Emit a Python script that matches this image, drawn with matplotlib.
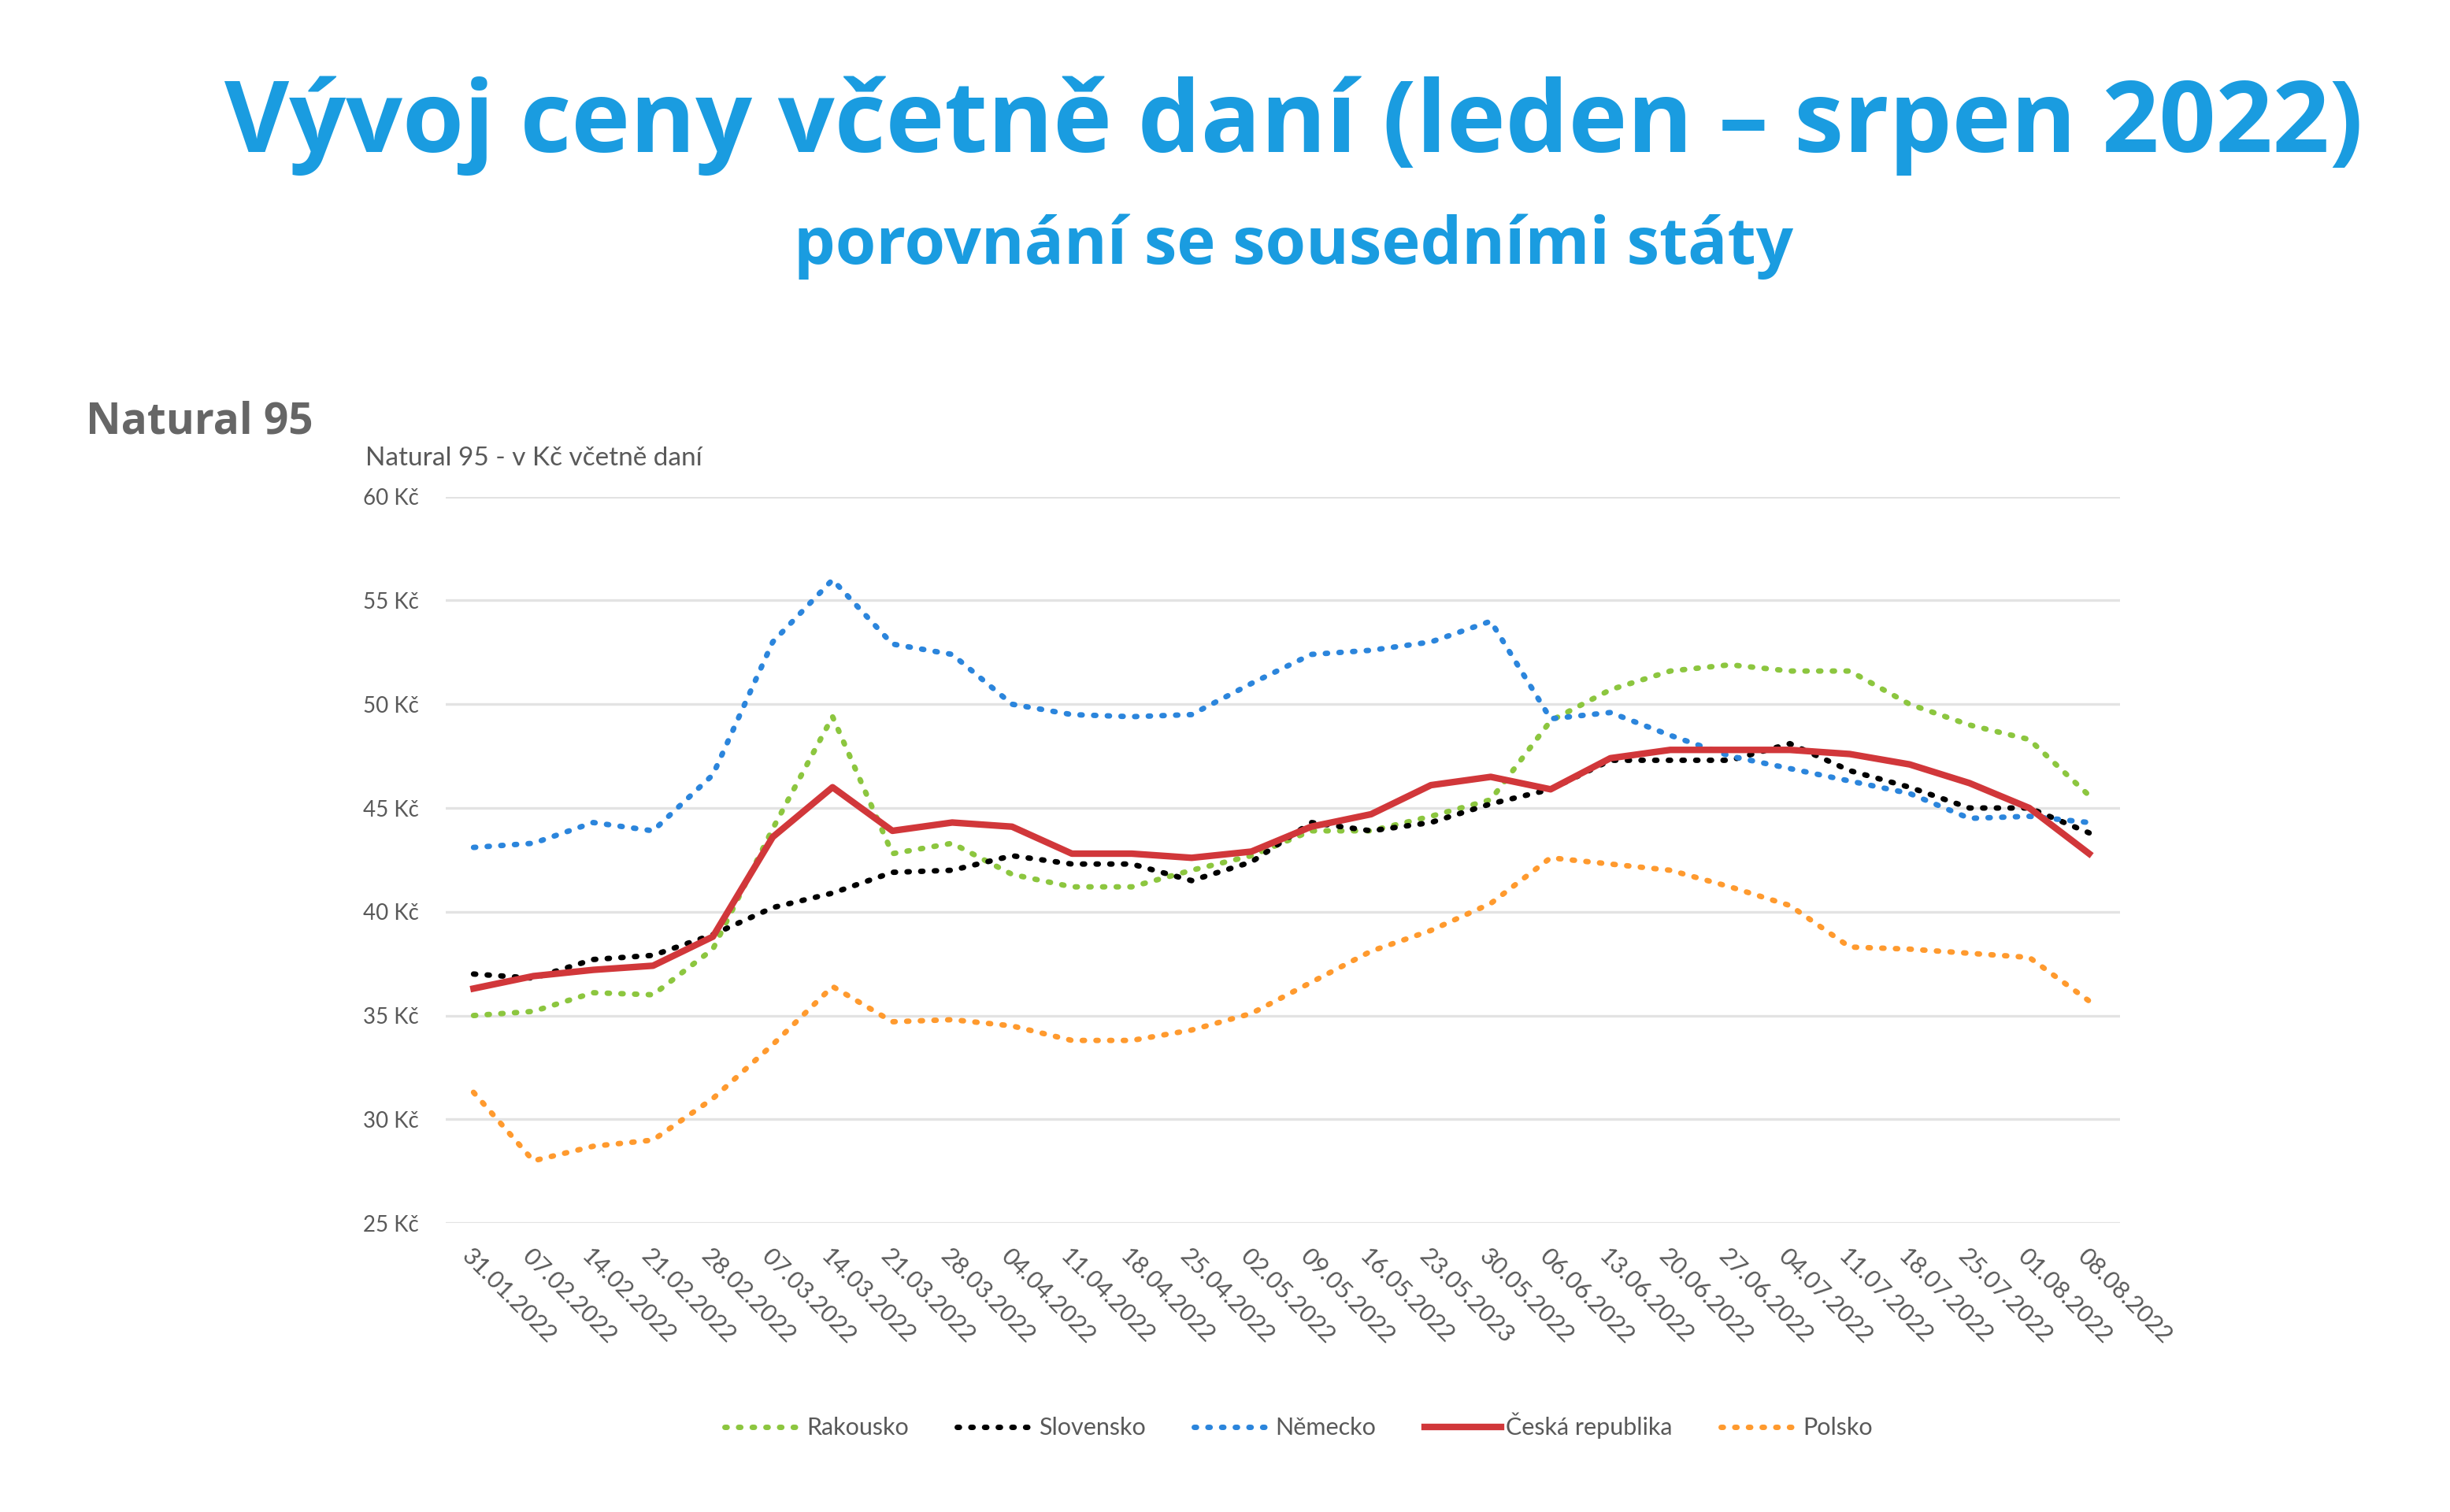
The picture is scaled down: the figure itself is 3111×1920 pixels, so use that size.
import matplotlib
matplotlib.use("Agg")
import matplotlib.pyplot as plt

plt.rcParams['font.family'] = ['Lato', 'DejaVu Sans']

dates = ['31.01.2022', '07.02.2022', '14.02.2022', '21.02.2022', '28.02.2022',
         '07.03.2022', '14.03.2022', '21.03.2022', '28.03.2022', '04.04.2022',
         '11.04.2022', '18.04.2022', '25.04.2022', '02.05.2022', '09.05.2022',
         '16.05.2022', '23.05.2023', '30.05.2022', '06.06.2022', '13.06.2022',
         '20.06.2022', '27.06.2022', '04.07.2022', '11.07.2022', '18.07.2022',
         '25.07.2022', '01.08.2022', '08.08.2022']

rakousko = [35.0, 35.2, 36.1, 36.0, 38.2, 44.0, 49.4, 42.8, 43.3, 41.8,
            41.2, 41.2, 42.0, 42.7, 43.9, 43.9, 44.6, 45.4, 49.2, 50.7,
            51.6, 51.9, 51.6, 51.6, 50.0, 49.0, 48.3, 45.6]
slovensko = [37.0, 36.8, 37.7, 37.9, 38.9, 40.2, 40.9, 41.9, 42.0, 42.7,
             42.3, 42.3, 41.5, 42.4, 44.3, 43.9, 44.3, 45.2, 45.9, 47.3,
             47.3, 47.3, 48.1, 46.8, 46.0, 45.0, 45.0, 43.8]
nemecko = [43.1, 43.3, 44.3, 43.9, 46.6, 53.0, 56.0, 52.9, 52.4, 50.0,
           49.5, 49.4, 49.5, 51.0, 52.4, 52.6, 53.0, 54.0, 49.3, 49.6,
           48.5, 47.5, 46.9, 46.3, 45.7, 44.5, 44.6, 44.3]
cesko = [36.3, 36.9, 37.2, 37.4, 38.8, 43.6, 46.0, 43.9, 44.3, 44.1,
         42.8, 42.8, 42.6, 42.9, 44.1, 44.7, 46.1, 46.5, 45.9, 47.4,
         47.8, 47.8, 47.8, 47.6, 47.1, 46.2, 45.0, 42.8]
polsko = [31.3, 28.0, 28.7, 29.0, 31.0, 33.6, 36.4, 34.7, 34.8, 34.5,
          33.8, 33.8, 34.3, 35.1, 36.6, 38.1, 39.1, 40.4, 42.6, 42.3,
          42.0, 41.2, 40.3, 38.3, 38.2, 38.0, 37.8, 35.7]

yticks = [25, 30, 35, 40, 45, 50, 55, 60]
ytick_labels = ['%d Kč' % v for v in yticks]

blue = '#1A9CE0'
grey = '#595959'

fig = plt.figure(figsize=(15.555, 9.6), dpi=200)
ax = fig.add_axes([0.1818, 0.1911, 0.6836, 0.4804])

x = list(range(len(dates)))
dot = (0, (0.4, 2.1))
ax.plot(x, rakousko, color='#8CC63F', lw=2.5, linestyle=dot, dash_capstyle='round', label='Rakousko')
ax.plot(x, slovensko, color='#000000', lw=2.5, linestyle=dot, dash_capstyle='round', label='Slovensko')
ax.plot(x, nemecko, color='#2B85DC', lw=2.5, linestyle=dot, dash_capstyle='round', label='Německo')
ax.plot(x, cesko, color='#D1373A', lw=3.0, solid_joinstyle='round', label='Česká republika')
ax.plot(x, polsko, color='#FF9A2E', lw=2.5, linestyle=dot, dash_capstyle='round', label='Polsko')

ax.set_xlim(-0.47, len(dates) - 0.48)
ax.set_ylim(25, 60)
ax.set_yticks(yticks)
ax.set_yticklabels(ytick_labels, color=grey, fontsize=10)
ax.set_xticks(x)
ax.set_xticklabels(dates, rotation=-45, ha='left', va='top', rotation_mode='anchor',
                   color=grey, fontsize=11)
ax.tick_params(axis='both', length=0)
ax.tick_params(axis='x', pad=10)
ax.tick_params(axis='y', pad=12)
ax.grid(axis='y', color='#E3E3E3', lw=1.2)
ax.set_axisbelow(True)
for s in ax.spines.values():
    s.set_visible(False)

fig.text(0.528, 0.917, 'Vývoj ceny včetně daní (leden – srpen 2022)', ha='center', va='center',
         color=blue, fontsize=45.5, fontweight='bold', family=['Open Sans', 'DejaVu Sans'])
fig.text(0.528, 0.837, 'porovnání se sousedními státy', ha='center', va='center',
         color=blue, fontsize=30, fontweight='bold', family=['Open Sans', 'DejaVu Sans'])
fig.text(0.035, 0.721, 'Natural 95', ha='left', va='center', color='#666666',
         fontsize=19.8, fontweight='bold', family=['Open Sans', 'DejaVu Sans'])
fig.text(0.149, 0.697, 'Natural 95 - v Kč včetně daní', ha='left', va='center',
         color=grey, fontsize=12)

fig.legend(loc='center', bbox_to_anchor=(0.53, 0.057), ncol=5, frameon=False,
           fontsize=11, handlelength=3.2, handletextpad=0.2, columnspacing=2.0,
           labelcolor=grey)

fig.savefig('out.png', dpi=200, facecolor='white')
